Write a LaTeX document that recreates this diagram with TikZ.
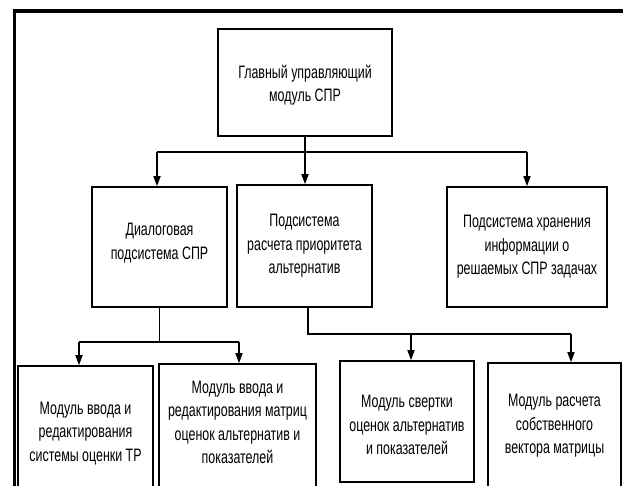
\documentclass[tikz,border=0pt]{standalone}
\usepackage{fontspec}
\setmainfont{Liberation Sans}[FakeStretch=0.69]
\usetikzlibrary{arrows.meta}
\begin{document}
\begin{tikzpicture}[x=1pt,y=-1pt,
  box/.style={draw,line width=1.6pt,inner sep=0pt},
  lbl/.style={align=center,inner sep=0pt,
    font=\fontsize{18}{23.5}\selectfont},
  bus/.style={line width=2.6pt},
  link/.style={line width=1.5pt},
  arr/.style={line width=1.5pt,-{Triangle[length=10pt,width=7pt]}},
]
\path[use as bounding box, clip] (0,0) rectangle (623,485);
% outer frame (top and left edges)
\draw[line width=3.6pt] (630,11) -- (14.5,11) -- (14.5,495);

% top level
\node[box, minimum width=174pt, minimum height=107pt,
  label={[lbl,yshift=-2.5pt]center:{Главный управляющий\\модуль СПР}}]
  (main) at (305,82.5) {};

% second level
\node[box, minimum width=135pt, minimum height=120pt,
  label={[lbl,yshift=4pt]center:{Диалоговая\\подсистема СПР}}]
  (dialog) at (159.5,247) {};
\node[box, minimum width=135pt, minimum height=122pt,
  label={[lbl]center:{Подсистема\\расчета приоритета\\альтернатив}}]
  (calc) at (304.5,246) {};
\node[box, minimum width=160pt, minimum height=120pt,
  label={[lbl]center:{Подсистема хранения\\информации о\\решаемых СПР задачах}}]
  (store) at (527,247) {};

% third level (the lower edges of some boxes run past the frame)
\node[box, minimum width=135pt, minimum height=135pt,
  label={[lbl]center:{Модуль ввода и\\редактирования\\системы оценки ТР}}]
  (inTR) at (85.5,433.5) {};
\node[box, minimum width=157pt, minimum height=132pt,
  label={[lbl,yshift=7.5pt]center:{Модуль ввода и\\редактирования матриц\\оценок альтернатив и\\показателей}}]
  (inMat) at (237.5,430) {};
\node[box, minimum width=134pt, minimum height=121pt,
  label={[lbl,yshift=-3.5pt]center:{Модуль свертки\\оценок альтернатив\\и показателей}}]
  (conv) at (407,421.5) {};
\node[box, minimum width=133pt, minimum height=126pt,
  label={[lbl]center:{Модуль расчета\\собственного\\вектора матрицы}}]
  (eig) at (554.5,426) {};

% main module -> subsystems
\coordinate (bus1L) at (157,152);
\coordinate (bus1R) at (527,152);
\draw[link] (main.south) -- (main.south |- bus1L);
\draw[bus] (bus1L) -- (bus1R);
\draw[arr] (bus1L) -- (bus1L |- dialog.north);
\draw[arr] (main.south |- bus1L) -- (main.south |- calc.north);
\draw[arr] (bus1R) -- (bus1R |- store.north);

% dialog subsystem -> input modules
\coordinate (bus2L) at (79,342);
\coordinate (bus2R) at (239,342);
\draw[link] (dialog.south) -- (dialog.south |- bus2L);
\draw[bus] (bus2L) -- (bus2R);
\draw[arr] (bus2L) -- (bus2L |- inTR.north);
\draw[arr] (bus2R) -- (bus2R |- inMat.north);

% priority subsystem -> computing modules
\coordinate (bus3M) at (411,334);
\coordinate (bus3R) at (571,334);
\draw[link] ([xshift=3.5pt]calc.south) |- (bus3R);
\draw[arr] (bus3M) -- (bus3M |- conv.north);
\draw[arr] (bus3R) -- (bus3R |- eig.north);
\end{tikzpicture}
\end{document}
